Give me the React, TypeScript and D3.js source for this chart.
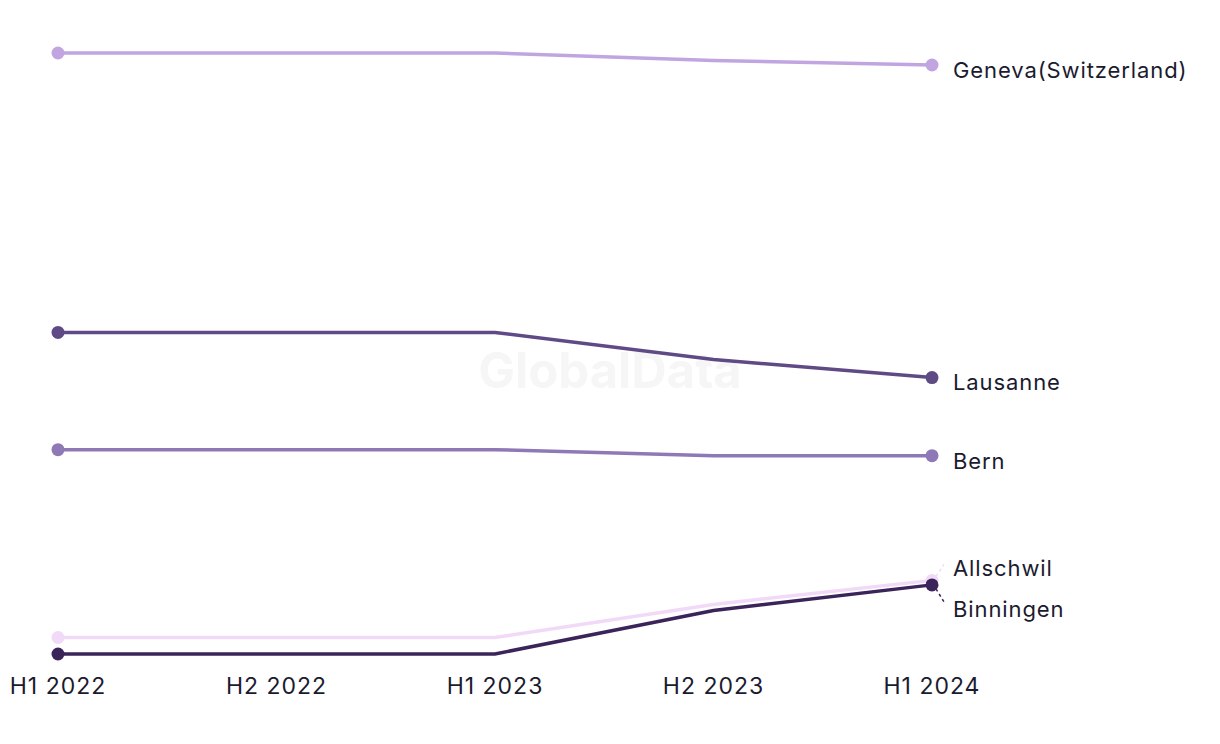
import React from "react";
import * as d3 from "d3";

const periods = ["H1 2022", "H2 2022", "H1 2023", "H2 2023", "H1 2024"];
const seriesNames = ["Geneva(Switzerland)", "Lausanne", "Bern", "Allschwil", "Binningen"];
const geneva = [60, 60, 60, 59.5, 59.2];
const lausanne = [41.4, 41.4, 41.4, 39.6, 38.4];
const bern = [33.6, 33.6, 33.6, 33.2, 33.2];
const allschwil = [21.1, 21.1, 21.1, 23.3, 24.9];
const binningen = [20, 20, 20, 22.9, 24.6];
const colors = ["#c1a5e1", "#5f4a86", "#8f78b6", "#f2d9f8", "#3b2459"];
const labelOffsets = [5, 5, 6, -12, 24];

const W = 1220;
const H = 744;

export default function App() {
  const data = [geneva, lausanne, bern, allschwil, binningen];
  const x = d3.scalePoint<string>().domain(periods).range([58, 932]);
  const y = d3.scaleLinear().domain([20, 60]).range([654, 53]);
  const line = d3
    .line<number>()
    .x((_, i) => x(periods[i]) as number)
    .y((d) => y(d));
  const font = "Inter, 'Noto Sans', sans-serif";
  const lastX = x(periods[periods.length - 1]) as number;
  return (
    <svg width={W} height={H} style={{ position: "absolute", left: 0, top: 0 }}>
      <rect width={W} height={H} fill="#ffffff" />
      <text x={610} y={388} textAnchor="middle" fontFamily={font} fontWeight={700} fontSize={49} fill="#f6f6f6">
        GlobalData
      </text>
      {data.map((vals, si) => (
        <path key={"l" + si} d={line(vals) || ""} fill="none" stroke={colors[si]} strokeWidth={3.5} />
      ))}
      {data.map((vals, si) => {
        const ly = y(vals[vals.length - 1]);
        const off = labelOffsets[si];
        const needLeader = Math.abs(off) > 8;
        return (
          <g key={"e" + si}>
            <circle cx={x(periods[0])} cy={y(vals[0])} r={6.5} fill={colors[si]} />
            <circle cx={lastX} cy={ly} r={6.5} fill={colors[si]} />
            {needLeader && (
              <line
                x1={lastX + 4}
                y1={ly + (off < 0 ? -4 : 4)}
                x2={lastX + 12}
                y2={ly + (off < 0 ? -16 : 17)}
                stroke={colors[si]}
                strokeWidth={1.5}
                strokeDasharray="3,3"
              />
            )}
            <text x={953} y={ly + off} dy="0.35em" fontFamily={font} fontSize={22} letterSpacing={0.9} fill="#1b1b2f">
              {seriesNames[si]}
            </text>
          </g>
        );
      })}
      {periods.map((p) => (
        <text key={p} x={x(p)} y={686} dy="0.35em" textAnchor="middle" fontFamily={font} fontSize={23} letterSpacing={1} fill="#1b1b2f">
          {p}
        </text>
      ))}
    </svg>
  );
}
